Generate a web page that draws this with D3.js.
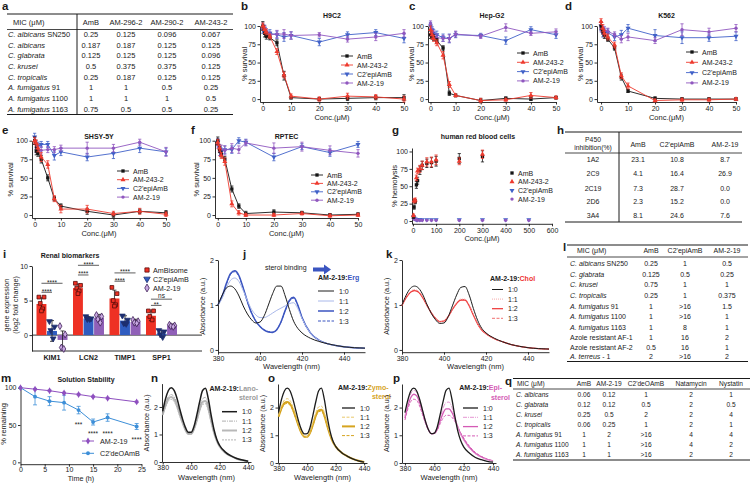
<!DOCTYPE html>
<html><head><meta charset="utf-8">
<script src="https://cdn.jsdelivr.net/npm/d3@7"></script>
<style>body{margin:0;background:#fff}svg{font-family:"Liberation Sans",Arial,Helvetica,sans-serif}</style>
</head><body>
<svg id="fig" width="750" height="483"></svg>
<script>
// ================= DATA =================
const conc = [0, 0.625, 1.25, 2.5, 5, 7.5, 10, 20, 30, 40, 50];
const survNames = ['AmB', 'AM-243-2', "C2'epiAmB", 'AM-2-19'];
const survTicksY = [0, 25, 50, 75, 100];
const survTicksX = [0, 10, 20, 30, 40, 50];

const h9c2_AmB = [100, 90, 86, 84, 77, 32, 2, 0, 1, 2, 2];
const h9c2_AmB_sd = [6, 5, 4, 3, 4, 6, 2, 2, 3, 3, 4];
const h9c2_243 = [100, 95, 92, 86, 65, 33, 4, 0, 4, 3, 0];
const h9c2_243_sd = [4, 5, 4, 3, 4, 4, 3, 3, 4, 3, 4];
const h9c2_epi = [95, 97, 92, 90, 88, 85, 87, 78, 88, 91, 83];
const h9c2_epi_sd = [5, 4, 4, 5, 5, 6, 5, 5, 4, 4, 6];
const h9c2_219 = [100, 97, 90, 88, 89, 89, 87, 88, 82, 85, 90];
const h9c2_219_sd = [4, 4, 4, 4, 5, 6, 5, 3, 4, 5, 5];

const hep_AmB = [88, 86, 84, 80, 70, 8, 5, -2, 1, 0, 2];
const hep_AmB_sd = [5, 4, 4, 3, 3, 3, 2, 3, 2, 2, 2];
const hep_243 = [95, 88, 83, 77, 60, 20, 5, -2, -1, 5, 2];
const hep_243_sd = [5, 5, 4, 4, 5, 4, 2, 3, 2, 4, 2];
const hep_epi = [100, 95, 90, 88, 84, 83, 88, 87, 80, 95, 88];
const hep_epi_sd = [5, 4, 5, 5, 5, 6, 4, 3, 5, 4, 5];
const hep_219 = [103, 93, 88, 84, 83, 83, 89, 86, 98, 90, 92];
const hep_219_sd = [4, 4, 5, 5, 4, 5, 4, 3, 5, 3, 4];

const k562_AmB = [100, 93, 87, 82, 70, 30, 11, 1, 0, 0, 0];
const k562_AmB_sd = [5, 4, 4, 3, 3, 4, 2, 2, 2, 2, 2];
const k562_243 = [106, 97, 90, 85, 74, 32, 18, -2, -1, -1, 0];
const k562_243_sd = [4, 5, 4, 4, 4, 4, 4, 2, 2, 2, 2];
const k562_epi = [100, 90, 92, 91, 85, 88, 97, 87, 84, 84, 86];
const k562_epi_sd = [6, 5, 5, 5, 5, 6, 5, 8, 8, 5, 6];
const k562_219 = [97, 95, 94, 93, 88, 82, 85, 80, 95, 92, 97];
const k562_219_sd = [5, 5, 5, 4, 4, 5, 5, 4, 8, 5, 5];

const shsy_AmB = [100, 86, 83, 75, 50, 22, 12, 5, 0, 5, 3];
const shsy_AmB_sd = [5, 5, 4, 5, 4, 3, 3, 4, 3, 3, 3];
const shsy_243 = [100, 97, 90, 78, 68, 22, 8, 8, 2, 5, 1];
const shsy_243_sd = [4, 4, 5, 6, 5, 4, 5, 5, 3, 4, 3];
const shsy_epi = [105, 95, 93, 95, 95, 80, 85, 78, 83, 90, 85];
const shsy_epi_sd = [5, 5, 5, 4, 4, 6, 5, 5, 7, 6, 5];
const shsy_219 = [100, 88, 88, 87, 88, 88, 90, 90, 90, 98, 85];
const shsy_219_sd = [5, 4, 4, 5, 4, 4, 4, 8, 5, 4, 6];

const rptec_AmB = [100, 88, 82, 75, 35, 12, 2, 4, 3, 0, 1];
const rptec_AmB_sd = [5, 4, 4, 4, 4, 3, 3, 3, 2, 2, 2];
const rptec_243 = [98, 90, 80, 72, 15, 3, 0, 0, 2, -1, 0];
const rptec_243_sd = [4, 4, 4, 5, 4, 3, 2, 2, 2, 2, 2];
const rptec_epi = [98, 90, 85, 88, 88, 100, 98, 78, 92, 84, 95];
const rptec_epi_sd = [5, 5, 5, 5, 5, 4, 4, 5, 4, 5, 4];
const rptec_219 = [95, 85, 88, 87, 90, 88, 97, 90, 92, 87, 83];
const rptec_219_sd = [5, 5, 6, 6, 6, 5, 4, 7, 6, 6, 5];

// g: hemolysis
const hemoTicksX = [0, 100, 200, 300, 400, 500, 600];
const hemoConcHigh = [2.5, 5, 10, 15, 20, 30, 40, 60, 80, 100, 200, 300];
const hemo_AmB = [6, 20, 28, 52, 58, 73, 80, 83, 84, 86, 90, 93];
const hemo_AmB_sd = [2, 3, 3, 5, 5, 6, 6, 6, 7, 7, 7, 8];
const hemo_243 = [8, 29, 30, 62, 72, 75, 80, 85, 85, 88, 86, 96];
const hemo_243_sd = [2, 3, 3, 4, 4, 5, 6, 6, 7, 7, 5, 6];
const hemoConcLow = [2.5, 5, 10, 15, 20, 30, 40, 60, 80, 100, 200, 300, 400, 500];
const hemo_epi = [6, 4, 3, 2, 2, 2, 2, 2, 2, 2, 2, 2, 2, 2];
const hemo_219 = [4, 3, 2, 2, 1, 1, 1, 1, 1, 1, 1, 1, 1, 1];

// tables
const tabA_head = ['MIC (μM)', 'AmB', 'AM-296-2', 'AM-290-2', 'AM-243-2'];
const tabA_species = ['C. albicans SN250', 'C. albicans', 'C. glabrata', 'C. krusei', 'C. tropicalis', 'A. fumigatus 91', 'A. fumigatus 1100', 'A. fumigatus 1163'];
const tabA_rows = [
  ['0.25', '0.125', '0.096', '0.067'], ['0.187', '0.187', '0.125', '0.125'], ['0.125', '0.125', '0.125', '0.096'],
  ['0.5', '0.375', '0.375', '0.125'], ['0.25', '0.187', '0.125', '0.125'], ['1', '1', '0.5', '0.25'],
  ['1', '1', '1', '0.5'], ['0.75', '0.5', '0.5', '0.25']];

const tabH_head = ['AmB', "C2'epiAmB", 'AM-2-19'];
const tabH_enzymes = ['1A2', '2C9', '2C19', '2D6', '3A4'];
const tabH_rows = [['23.1', '10.8', '8.7'], ['4.1', '16.4', '26.9'], ['7.3', '28.7', '0.0'], ['2.3', '15.2', '0.0'], ['8.1', '24.6', '7.6']];

const tabL_head = ['MIC (μM)', 'AmB', "C2'epiAmB", 'AM-2-19'];
const tabL_species = ['C. albicans SN250', 'C. glabrata', 'C. krusei', 'C. tropicalis', 'A. fumigatus 91', 'A. fumigatus 1100', 'A. fumigatus 1163', 'Azole resistant AF-1', 'Azole resistant AF-2', 'A. terreus - 1'];
const tabL_rows = [['0.25', '1', '0.5'], ['0.125', '0.5', '0.25'], ['0.75', '1', '1'], ['0.25', '1', '0.375'], ['1', '>16', '1.5'],
  ['1', '>16', '1'], ['1', '8', '1'], ['1', '16', '2'], ['0.5', '16', '1'], ['2', '>16', '2']];

const tabQ_head = ['MIC (μM)', 'AmB', 'AM-2-19', "C2'deOAmB", 'Natamycin', 'Nystatin'];
const tabQ_species = ['C. albicans', 'C. glabrata', 'C. krusei', 'C. tropicalis', 'A. fumigatus 91', 'A. fumigatus 1100', 'A. fumigatus 1163'];
const tabQ_rows = [['0.06', '0.12', '1', '2', '1'], ['0.12', '0.12', '0.5', '2', '0.5'], ['0.25', '0.5', '2', '2', '4'],
  ['0.06', '0.25', '1', '2', '1'], ['1', '2', '>16', '4', '4'], ['1', '1', '>16', '4', '2'], ['1', '1', '>16', '2', '2']];

// i: renal biomarkers
const renalCats = ['KIM1', 'LCN2', 'TIMP1', 'SPP1'];
const renalGroups = ['AmBisome', "C2'epiAmB", 'AM-2-19'];
const renal_AmBisome = [4.5, 6.8, 5.3, 2.8];
const renal_AmBisome_sd = [0.9, 0.6, 1.2, 0.7];
const renal_epi = [0.6, 2.4, 2.1, 0.2];
const renal_epi_sd = [1.5, 0.3, 0.7, 0.5];
const renal_219 = [-0.7, 2.5, 1.9, 1.4];
const renal_219_sd = [1.3, 0.5, 0.4, 0.2];
const renalPts_AmBisome = [[5.5, 5.5, 4.6, 3.8, 3.5], [7.5, 7.2, 6.8, 6.4, 6.0], [6.9, 6.0, 5.0, 4.4, 4.2], [3.5, 3.5, 2.7, 2.2]];
const renalPts_epi = [[2.0, 1.2, 0.7, -0.5], [2.7, 2.4, 2.3, 2.3], [2.8, 2.2, 1.7, 1.6], [0.7, 0.5, 0.1, -0.3]];
const renalPts_219 = [[1.3, 0.1, -1.8, -2.0], [2.9, 2.7, 2.3, 1.8], [2.2, 2.0, 1.8, 1.7], [1.5, 1.4, 1.3, 1.2]];
const renalSig = [
  ['KIM1', 'AmBisome', 'AM-2-19', 7.5, '****'], ['KIM1', 'AmBisome', "C2'epiAmB", 6.2, '****'],
  ['LCN2', 'AmBisome', 'AM-2-19', 10.1, '****'], ['LCN2', 'AmBisome', "C2'epiAmB", 8.7, '****'],
  ['TIMP1', 'AmBisome', 'AM-2-19', 9.0, '****'], ['TIMP1', 'AmBisome', "C2'epiAmB", 7.8, '****'],
  ['SPP1', 'AmBisome', 'AM-2-19', 5.2, 'ns'], ['SPP1', 'AmBisome', "C2'epiAmB", 4.3, '**']];

// spectra
const WL = [380, 382, 384, 386, 388, 390, 392, 394, 396, 398, 400, 402, 404, 406, 408, 410, 412, 414, 416, 418, 420, 424, 428, 432, 436, 440, 445, 450];
const ratios = ['1:0', '1:1', '1:2', '1:3'];
const erg10 = [1.0, 1.22, 1.38, 1.42, 1.36, 1.2, 0.98, 0.8, 0.67, 0.6, 0.62, 0.76, 1.0, 1.25, 1.42, 1.42, 1.2, 0.9, 0.64, 0.48, 0.38, 0.26, 0.19, 0.14, 0.1, 0.07, 0.05, 0.04];
const erg11 = [1.0, 1.15, 1.38, 1.55, 1.6, 1.52, 1.32, 1.1, 0.9, 0.78, 0.72, 0.72, 0.76, 0.82, 0.88, 0.93, 0.98, 1.03, 1.05, 0.92, 0.7, 0.38, 0.22, 0.14, 0.1, 0.07, 0.05, 0.04];
const erg12 = [1.0, 1.2, 1.48, 1.7, 1.76, 1.65, 1.38, 1.08, 0.82, 0.64, 0.52, 0.44, 0.4, 0.39, 0.45, 0.62, 0.88, 1.1, 1.17, 1.0, 0.72, 0.38, 0.22, 0.14, 0.1, 0.07, 0.05, 0.04];
const erg13 = [1.0, 1.19, 1.46, 1.68, 1.74, 1.63, 1.37, 1.07, 0.82, 0.64, 0.52, 0.45, 0.41, 0.4, 0.46, 0.62, 0.87, 1.08, 1.15, 0.99, 0.72, 0.38, 0.22, 0.14, 0.1, 0.07, 0.05, 0.04];
const chol10 = [1.0, 1.22, 1.37, 1.42, 1.37, 1.22, 1.0, 0.81, 0.67, 0.59, 0.6, 0.74, 0.98, 1.22, 1.39, 1.41, 1.22, 0.92, 0.66, 0.48, 0.38, 0.26, 0.18, 0.12, 0.08, 0.05, 0.03, 0.02];
const chol11 = [1.0, 1.18, 1.3, 1.34, 1.3, 1.17, 0.99, 0.83, 0.7, 0.63, 0.64, 0.75, 0.91, 1.05, 1.13, 1.13, 0.99, 0.78, 0.58, 0.44, 0.36, 0.25, 0.18, 0.12, 0.08, 0.05, 0.03, 0.02];
const chol12 = [0.99, 1.16, 1.28, 1.32, 1.28, 1.15, 0.98, 0.82, 0.7, 0.63, 0.64, 0.74, 0.9, 1.03, 1.11, 1.11, 0.98, 0.77, 0.58, 0.44, 0.36, 0.25, 0.18, 0.12, 0.08, 0.05, 0.03, 0.02];
const chol13 = [0.99, 1.17, 1.29, 1.33, 1.29, 1.16, 0.99, 0.83, 0.7, 0.63, 0.64, 0.74, 0.9, 1.04, 1.12, 1.12, 0.99, 0.78, 0.58, 0.44, 0.36, 0.25, 0.18, 0.12, 0.08, 0.05, 0.03, 0.02];
const lano10 = [1.85, 2.3, 2.6, 2.7, 2.6, 2.32, 1.92, 1.55, 1.25, 1.08, 1.08, 1.3, 1.72, 2.2, 2.6, 2.68, 2.3, 1.7, 1.18, 0.82, 0.6, 0.36, 0.22, 0.13, 0.07, 0.03, 0.01, 0];
const lano11 = [1.75, 2.12, 2.38, 2.45, 2.37, 2.13, 1.78, 1.45, 1.18, 1.03, 1.03, 1.22, 1.58, 2.0, 2.3, 2.35, 2.05, 1.55, 1.1, 0.78, 0.57, 0.34, 0.21, 0.12, 0.06, 0.03, 0.01, 0];
const lano12 = [1.72, 2.06, 2.3, 2.36, 2.28, 2.05, 1.72, 1.42, 1.16, 1.02, 1.02, 1.2, 1.53, 1.92, 2.18, 2.22, 1.96, 1.5, 1.07, 0.77, 0.56, 0.34, 0.21, 0.12, 0.06, 0.03, 0.01, 0];
const lano13 = [1.7, 2.0, 2.22, 2.28, 2.2, 1.98, 1.67, 1.39, 1.14, 1.01, 1.01, 1.18, 1.49, 1.85, 2.09, 2.12, 1.88, 1.45, 1.05, 0.76, 0.56, 0.34, 0.21, 0.12, 0.06, 0.03, 0.01, 0];
const zymo10 = [1.85, 2.3, 2.6, 2.7, 2.6, 2.3, 1.9, 1.5, 1.2, 1.05, 1.06, 1.28, 1.72, 2.2, 2.6, 2.7, 2.3, 1.68, 1.16, 0.8, 0.6, 0.38, 0.25, 0.15, 0.08, 0.03, 0.01, 0];
const zymo11 = [1.72, 2.05, 2.27, 2.32, 2.25, 2.02, 1.7, 1.38, 1.1, 0.96, 0.96, 1.12, 1.45, 1.8, 2.02, 2.05, 1.82, 1.42, 1.05, 0.78, 0.6, 0.38, 0.25, 0.15, 0.08, 0.04, 0.01, 0];
const zymo12 = [1.68, 1.98, 2.16, 2.2, 2.13, 1.93, 1.64, 1.34, 1.08, 0.95, 0.95, 1.09, 1.38, 1.7, 1.9, 1.92, 1.72, 1.36, 1.02, 0.76, 0.59, 0.38, 0.25, 0.15, 0.08, 0.04, 0.01, 0];
const zymo13 = [1.66, 1.95, 2.11, 2.15, 2.08, 1.89, 1.61, 1.32, 1.07, 0.94, 0.94, 1.07, 1.35, 1.66, 1.85, 1.87, 1.68, 1.34, 1.01, 0.76, 0.59, 0.38, 0.25, 0.15, 0.08, 0.04, 0.01, 0];
const epi10 = [1.82, 2.28, 2.6, 2.7, 2.6, 2.3, 1.9, 1.5, 1.2, 1.06, 1.08, 1.3, 1.75, 2.22, 2.62, 2.7, 2.3, 1.68, 1.15, 0.8, 0.58, 0.35, 0.2, 0.12, 0.06, 0.03, 0.01, 0];
const epi11 = [1.7, 2.18, 2.5, 2.62, 2.55, 2.28, 1.9, 1.52, 1.22, 1.07, 1.08, 1.26, 1.62, 1.98, 2.18, 2.2, 2.0, 1.65, 1.3, 1.02, 0.82, 0.52, 0.32, 0.2, 0.12, 0.07, 0.03, 0.01];
const epi12 = [1.62, 2.05, 2.36, 2.48, 2.42, 2.18, 1.83, 1.48, 1.2, 1.06, 1.07, 1.22, 1.52, 1.8, 1.95, 1.95, 1.82, 1.58, 1.3, 1.05, 0.86, 0.56, 0.35, 0.22, 0.13, 0.08, 0.03, 0.01];
const epi13 = [1.55, 1.95, 2.22, 2.3, 2.26, 2.05, 1.74, 1.43, 1.18, 1.05, 1.06, 1.18, 1.42, 1.62, 1.72, 1.72, 1.65, 1.5, 1.3, 1.08, 0.9, 0.6, 0.38, 0.24, 0.14, 0.08, 0.03, 0.01];

// m: solution stability
const stabTime = [0, 3, 6, 9, 12, 15, 18, 24];
const stab_219 = [100, 98, 96, 93, 91, 88, 86, 81];
const stab_219_sd = [0, 1, 1, 1, 1, 1, 1, 1];
const stab_deo = [100, 88, 82, 80, 70, 54, 60, 48];
const stab_deo_sd = [0, 11, 6, 10, 5, 4, 5, 4];
const stabStars = [[12, 50, '***'], [15, 38, '****'], [18, 38, '****'], [24, 30, '****']];

// ================= DRAWING =================
const svg = d3.select('#fig');
const INK = '#1a1a1a';
const C = {black: '#151515', red: '#ee3a2e', blue: '#4061c8', purple: '#9057bf'};

function T(x, y, s, o = {}) {
  const t = svg.append('text').attr('x', x).attr('y', y)
    .attr('font-size', o.size || 7).attr('fill', o.fill || INK)
    .attr('text-anchor', o.anchor || 'start');
  if (o.bold) t.attr('font-weight', 'bold');
  if (o.italic) t.attr('font-style', 'italic');
  if (o.rot) t.attr('transform', `rotate(-90 ${x} ${y})`);
  if (s !== null) t.text(s);
  return t;
}
function letter(x, y, ch) { T(x, y, ch, {size: 11.5, bold: true}); }
function styleAx(g, fs) {
  g.attr('font-family', null).attr('font-size', null);
  g.select('.domain').attr('stroke', INK).attr('stroke-width', 0.9);
  g.selectAll('.tick line').attr('stroke', INK).attr('stroke-width', 0.9);
  g.selectAll('.tick text').attr('font-size', fs || 7).attr('fill', INK);
}
function axL(y, xpos, ticks, fs) {
  const g = svg.append('g').attr('transform', `translate(${xpos},0)`)
    .call(d3.axisLeft(y).tickValues(ticks).tickSize(2.5).tickSizeOuter(0).tickPadding(1.5).tickFormat(d3.format('~g')));
  styleAx(g, fs); return g;
}
function axB(x, ypos, ticks, fs, pad) {
  const g = svg.append('g').attr('transform', `translate(0,${ypos})`)
    .call(d3.axisBottom(x).tickValues(ticks).tickSize(2.5).tickSizeOuter(0).tickPadding(pad == null ? 1.5 : pad).tickFormat(d3.format('~g')));
  styleAx(g, fs); return g;
}
function sym(g, st, x, y) {
  g.append('path').attr('d', d3.symbol().type(st.type).size(st.size)())
    .attr('transform', `translate(${x},${y}) rotate(${st.rot})`).attr('fill', st.color);
}
function errbar(g, x, y1, y2, color, cap) {
  const c = cap || 1.6;
  g.append('path').attr('d', `M${x},${y1}V${y2}M${x - c},${y1}H${x + c}M${x - c},${y2}H${x + c}`)
    .attr('stroke', color).attr('stroke-width', 0.8).attr('fill', 'none');
}
const survStyle = [
  {color: C.black, type: d3.symbolSquare, size: 11, rot: 0},
  {color: C.red, type: d3.symbolTriangle, size: 11, rot: 0},
  {color: C.blue, type: d3.symbolTriangle, size: 11, rot: 180},
  {color: C.purple, type: d3.symbolCircle, size: 9, rot: 0}];

function survivalPanel(p) {
  const x = d3.scaleLinear().domain(p.xd).range([p.l, p.r]);
  const y = d3.scaleLinear().domain([-4, 100]).range([p.b, p.t]);
  axL(y, p.l, survTicksY); axB(x, p.b, survTicksX);
  letter(p.letter[0], p.letter[1], p.name);
  T((p.l + p.r) / 2, p.titleY, p.title, {bold: true, anchor: 'middle', size: 7});
  T(p.ylabX, (p.t + p.b) / 2, '% survival', {rot: true, anchor: 'middle', size: 7.5});
  T((p.l + p.r) / 2, p.b + 18, 'Conc.(μM)', {anchor: 'middle', size: 7.5});
  [2, 3, 0, 1].forEach(i => {
    const s = p.series[i], st = survStyle[i];
    const pts = conc.map((c, k) => ({c, v: s[0][k], e: s[1][k]}));
    const g = svg.append('g');
    g.append('path').attr('d', d3.line().x(d => x(d.c)).y(d => y(d.v))(pts))
      .attr('fill', 'none').attr('stroke', st.color).attr('stroke-width', 0.9);
    pts.forEach(d => { errbar(g, x(d.c), y(d.v - d.e), y(d.v + d.e), st.color); sym(g, st, x(d.c), y(d.v)); });
  });
  survNames.forEach((n, i) => {
    const ly = p.leg.y + i * p.leg.dy, st = survStyle[i];
    const g = svg.append('g');
    g.append('line').attr('x1', p.leg.x - 6).attr('x2', p.leg.x + 6).attr('y1', ly).attr('y2', ly)
      .attr('stroke', st.color).attr('stroke-width', 0.9);
    sym(g, st, p.leg.x, ly);
    T(p.leg.x + 10, ly + 2.5, n, {size: 7});
  });
}

survivalPanel({name: 'b', letter: [241, 10], title: 'H9C2', titleY: 18, l: 260, r: 404, xd: [-1, 50], t: 26, b: 102, ylabX: 247,
  leg: {x: 347, y: 56, dy: 9}, series: [[h9c2_AmB, h9c2_AmB_sd], [h9c2_243, h9c2_243_sd], [h9c2_epi, h9c2_epi_sd], [h9c2_219, h9c2_219_sd]]});
survivalPanel({name: 'c', letter: [409, 10], title: 'Hep-G2', titleY: 18, l: 428, r: 556, xd: [-1, 50], t: 26, b: 102, ylabX: 414,
  leg: {x: 523, y: 53, dy: 9.3}, series: [[hep_AmB, hep_AmB_sd], [hep_243, hep_243_sd], [hep_epi, hep_epi_sd], [hep_219, hep_219_sd]]});
survivalPanel({name: 'd', letter: [565, 10], title: 'K562', titleY: 18, l: 597, r: 736, xd: [-1.5, 50], t: 26, b: 102, ylabX: 583,
  leg: {x: 692, y: 52, dy: 10.3}, series: [[k562_AmB, k562_AmB_sd], [k562_243, k562_243_sd], [k562_epi, k562_epi_sd], [k562_219, k562_219_sd]]});
survivalPanel({name: 'e', letter: [2, 134], title: 'SHSY-5Y', titleY: 139, l: 32, r: 166, xd: [-1, 50], t: 140.7, b: 218, ylabX: 13,
  leg: {x: 123, y: 171, dy: 8.7}, series: [[shsy_AmB, shsy_AmB_sd], [shsy_243, shsy_243_sd], [shsy_epi, shsy_epi_sd], [shsy_219, shsy_219_sd]]});
survivalPanel({name: 'f', letter: [191, 134], title: 'RPTEC', titleY: 139, l: 215, r: 358, xd: [-1, 50], t: 140.7, b: 218, ylabX: 199,
  leg: {x: 317, y: 175, dy: 8.4}, series: [[rptec_AmB, rptec_AmB_sd], [rptec_243, rptec_243_sd], [rptec_epi, rptec_epi_sd], [rptec_219, rptec_219_sd]]});

// ---- g: hemolysis ----
(function () {
  const x = d3.scaleLinear().domain([-4, 600]).range([412, 552]);
  const y = d3.scaleLinear().domain([-4, 105]).range([223.8, 148]);
  axL(y, 412, survTicksY); axB(x, 223.8, hemoTicksX);
  letter(392, 134, 'g');
  T(478, 139, 'human red blood cells', {bold: true, anchor: 'middle'});
  T(397, 186, '% hemolysis', {rot: true, anchor: 'middle', size: 7.5});
  T(482, 241, 'Conc.(μM)', {anchor: 'middle', size: 7.5});
  const sets = [[hemoConcLow, hemo_epi, null, 2], [hemoConcLow, hemo_219, null, 3], [hemoConcHigh, hemo_AmB, hemo_AmB_sd, 0], [hemoConcHigh, hemo_243, hemo_243_sd, 1]];
  sets.forEach(([xs, vs, sd, si]) => {
    const g = svg.append('g'), st = survStyle[si];
    xs.forEach((c, k) => {
      if (sd) errbar(g, x(c), y(vs[k] - sd[k]), y(vs[k] + sd[k]), st.color);
      sym(g, st, x(c), y(vs[k]));
    });
  });
  survNames.forEach((n, i) => {
    const ly = 173 + i * 8.7;
    sym(svg.append('g'), survStyle[i], 512, ly);
    T(518, ly + 2.5, n);
  });
})();

// ---- tables ----
function speciesCell(x, y, name, size, anchor) {
  const t = T(x, y, null, {size, anchor});
  const m = name.match(/^([A-Z]\. [a-z]+)(.*)$/);
  if (m) { t.append('tspan').attr('font-style', 'italic').text(m[1]); if (m[2]) t.append('tspan').text(m[2]); }
  else t.text(name);
}
function hline(x1, x2, y, w) { svg.append('line').attr('x1', x1).attr('x2', x2).attr('y1', y).attr('y2', y).attr('stroke', INK).attr('stroke-width', w); }
function vline(x, y1, y2, w) { svg.append('line').attr('x1', x).attr('x2', x).attr('y1', y1).attr('y2', y2).attr('stroke', INK).attr('stroke-width', w); }

// a
letter(2, 10, 'a');
hline(7, 233, 14, 1); hline(7, 233, 29.5, 0.8); hline(7, 233, 114.5, 1); vline(77, 14, 114.5, 1);
(function () {
  const colX = [91, 126, 167, 211], rowY = [36.5, 47.5, 57.5, 68.5, 79.5, 89.5, 100.5, 111.5];
  T(13, 24.5, tabA_head[0], {size: 7.5});
  tabA_head.slice(1).forEach((h, i) => T(colX[i], 24.5, h, {size: 7.5, anchor: 'middle'}));
  tabA_species.forEach((s, r) => {
    speciesCell(8, rowY[r], s, 7.5);
    tabA_rows[r].forEach((v, i) => T(colX[i], rowY[r], v, {size: 7.5, anchor: 'middle'}));
  });
})();

// h
letter(557, 134, 'h');
hline(565, 742, 132, 1); hline(565, 742, 153, 0.8); hline(565, 742, 222, 1); vline(619, 132, 222, 1);
(function () {
  const colX = [638, 677, 725], rowY = [161.5, 175.5, 190.5, 204, 217.5];
  T(593, 142, 'P450', {size: 6.8, anchor: 'middle'});
  T(593, 150, 'inhibition(%)', {size: 6.8, anchor: 'middle'});
  tabH_head.forEach((h, i) => T(colX[i], 146.5, h, {size: 7, anchor: 'middle'}));
  tabH_enzymes.forEach((e, r) => {
    T(593, rowY[r], e, {size: 7, anchor: 'middle'});
    tabH_rows[r].forEach((v, i) => T(colX[i], rowY[r], v, {size: 7, anchor: 'middle'}));
  });
})();

// l
letter(563, 251, 'l');
hline(567, 748, 245, 1); hline(567, 748, 257, 0.8); hline(567, 748, 361.5, 1);
(function () {
  const colX = [651, 685, 727], rowY = [266, 276.5, 287, 298, 308.5, 319, 329.5, 340, 349.5, 358.5];
  T(577, 253, tabL_head[0], {size: 7});
  tabL_head.slice(1).forEach((h, i) => T(colX[i], 253, h, {size: 7, anchor: 'middle'}));
  tabL_species.forEach((s, r) => {
    speciesCell(570, rowY[r], s, 7);
    tabL_rows[r].forEach((v, i) => T(colX[i], rowY[r], v, {size: 7, anchor: 'middle'}));
  });
})();

// q
letter(505, 385, 'q');
hline(513, 750, 378.5, 1); hline(513, 750, 389, 0.8); hline(513, 750, 460, 1);
(function () {
  const colX = [584, 609, 646, 691, 731], rowY = [396.5, 406.6, 416.7, 426.8, 436.9, 447, 457];
  T(517, 386, tabQ_head[0], {size: 6.6});
  tabQ_head.slice(1).forEach((h, i) => T(colX[i], 386, h, {size: 6.6, anchor: 'middle'}));
  tabQ_species.forEach((s, r) => {
    speciesCell(516, rowY[r], s, 6.6);
    tabQ_rows[r].forEach((v, i) => T(colX[i], rowY[r], v, {size: 6.6, anchor: 'middle'}));
  });
})();

// ---- i: renal biomarkers ----
(function () {
  const y = d3.scaleLinear().domain([-2.3, 10]).range([351, 266]);
  const xc = d3.scalePoint().domain(renalCats).range([52, 161.5]);
  const xs = d3.scaleBand().domain(renalGroups).range([-15.5, 15.5]).paddingInner(0.06);
  const bw = xs.bandwidth();
  letter(3, 258, 'i');
  T(70, 257.5, 'Renal biomarkers', {bold: true, anchor: 'middle'});
  T(9, 305, 'gene expression', {rot: true, anchor: 'middle', size: 7.2});
  T(17.5, 305, '(log2 fold change)', {rot: true, anchor: 'middle', size: 7.2});
  axL(y, 32, [0, 5, 10]);
  hline(32, 202, y(-2.3), 0.9);
  hline(32, 202, y(0), 0.9);
  renalCats.forEach(c => T(xc(c), 359.5, c, {bold: true, anchor: 'middle', size: 7.2}));
  const grp = [
    {name: 'AmBisome', m: renal_AmBisome, sd: renal_AmBisome_sd, pts: renalPts_AmBisome, bar: '#ee3124', mk: d3.symbolSquare, mf: '#ee3124', ms: '#5a0d0a', rot: 0},
    {name: "C2'epiAmB", m: renal_epi, sd: renal_epi_sd, pts: renalPts_epi, bar: '#2f5cc0', mk: d3.symbolTriangle, mf: '#1d2f70', ms: '#1d2f70', rot: 180},
    {name: 'AM-2-19', m: renal_219, sd: renal_219_sd, pts: renalPts_219, bar: '#9060b8', mk: d3.symbolDiamond, mf: '#c9a9e3', ms: '#3d1f55', rot: 0}];
  const jit = [-2.6, 2.6, -1.2, 1.2, 0];
  grp.forEach(G => {
    renalCats.forEach((c, k) => {
      const x0 = xc(c) + xs(G.name), v = G.m[k];
      svg.append('rect').attr('x', x0).attr('width', bw).attr('y', y(Math.max(0, v)))
        .attr('height', Math.abs(y(v) - y(0))).attr('fill', G.bar);
      const g = svg.append('g');
      errbar(g, x0 + bw / 2, y(v - G.sd[k]), y(v + G.sd[k]), INK, 2);
      G.pts[k].forEach((pv, j) => {
        g.append('path').attr('d', d3.symbol().type(G.mk).size(14)())
          .attr('transform', `translate(${x0 + bw / 2 + jit[j]},${y(pv)}) rotate(${G.rot})`)
          .attr('fill', G.mf).attr('stroke', G.ms).attr('stroke-width', 0.8);
      });
    });
  });
  renalSig.forEach(([c, a, b, v, lab]) => {
    const x1 = xc(c) + xs(a) + bw / 2, x2 = xc(c) + xs(b) + bw / 2;
    hline(x1, x2, y(v), 0.7);
    T((x1 + x2) / 2, y(v) + (lab === 'ns' ? -1 : 1.4), lab, {anchor: 'middle', size: 6.5});
  });
  grp.forEach((G, i) => {
    const ly = 270 + i * 9;
    svg.append('path').attr('d', d3.symbol().type(G.mk).size(18)())
      .attr('transform', `translate(147,${ly}) rotate(${G.rot})`).attr('fill', G.name === 'AM-2-19' ? G.mf : G.bar)
      .attr('stroke', G.ms).attr('stroke-width', 0.8);
    T(153, ly + 2.5, G.name, {size: 7.2});
  });
})();

// ---- spectra ----
function specPanel(p) {
  const x = d3.scaleLinear().domain(p.xd).range([p.l, p.r]);
  const y = d3.scaleLinear().domain(p.yd).range([p.b, p.t]);
  axL(y, p.l, [0, 1, 2]); axB(x, p.b, [380, 400, 420, 440], 7, p.xpad);
  letter(p.letter[0], p.letter[1], p.name);
  T(p.l - 13, (p.t + p.b) / 2, 'Absorbance (a.u.)', {rot: true, anchor: 'middle', size: 7.2});
  T((p.l + p.r) / 2, p.b + (p.xlabDy || 17), 'Wavelength (nm)', {anchor: 'middle', size: 7.5});
  const idx = WL.map((w, i) => i).filter(i => WL[i] <= p.xd[1] + 0.5);
  p.curves.slice().reverse().forEach(c => {
    const ln = d3.line().x(i => x(WL[i])).y(i => y(c.data[i])).curve(d3.curveMonotoneX);
    svg.append('path').attr('d', ln(idx)).attr('fill', 'none').attr('stroke', c.color)
      .attr('stroke-width', c.w).attr('stroke-dasharray', c.dash || null);
  });
  const L = p.leg;
  const tt = T(L.tx, L.ty, null, {bold: true, size: 7, anchor: L.tanchor || 'start'});
  tt.append('tspan').text('AM-2-19:');
  tt.append('tspan').attr('fill', p.hue).text(L.sterol);
  if (L.line2) T(L.line2[0], L.line2[1], 'sterol', {bold: true, size: 7, anchor: 'end', fill: p.hue});
  ratios.forEach((r, i) => {
    const ly = L.y + i * L.dy, c = p.curves[i];
    svg.append('line').attr('x1', L.x0).attr('x2', L.x1).attr('y1', ly).attr('y2', ly)
      .attr('stroke', c.color).attr('stroke-width', c.w).attr('stroke-dasharray', c.dash || null);
    T(L.x1 + 5, ly + 2.5, r, {size: 7});
  });
}
const blk = '#1c1c1c';
specPanel({name: 'j', letter: [243, 258], l: 218, r: 365, xd: [380, 450], yd: [-0.05, 2], b: 352.2, t: 260, hue: '#3b55c0',
  curves: [{data: erg10, color: blk, w: 1}, {data: erg11, color: '#a9b8ea', w: 1}, {data: erg12, color: '#3b55c0', w: 1.5}, {data: erg13, color: '#3b55c0', w: 1, dash: '3,1.5'}],
  leg: {tx: 318, ty: 280, sterol: 'Erg', x0: 318, x1: 334, y: 291, dy: 10}});
svg.append('path').attr('d', 'M313,267.5 L324,267.5 L324,264.5 L331,269.5 L324,274.5 L324,271.5 L313,271.5 Z').attr('fill', '#3b55c0');
T(265, 270, 'sterol binding', {size: 7});
specPanel({name: 'k', letter: [386, 258], l: 402, r: 549, xd: [380, 450], yd: [-0.05, 2], b: 352.2, t: 260, hue: '#ee3333',
  curves: [{data: chol10, color: blk, w: 1}, {data: chol11, color: '#f5a0a0', w: 0.9, dash: '1,1'}, {data: chol12, color: '#ee3333', w: 1.2}, {data: chol13, color: '#f07070', w: 1, dash: '3,1.5'}],
  leg: {tx: 490, ty: 281, sterol: 'Chol', x0: 492, x1: 503, y: 289.5, dy: 9.6}});
specPanel({name: 'n', letter: [151, 382], l: 162, r: 251, xd: [379.5, 442], yd: [0, 2.85], b: 462, t: 383.6, hue: '#9a9a9a', xpad: 1, xlabDy: 17.5,
  curves: [{data: lano10, color: blk, w: 1.5}, {data: lano11, color: '#9a9a9a', w: 0.8, dash: '4,1,1,1'}, {data: lano12, color: '#b8b8b8', w: 2}, {data: lano13, color: '#a0a0a0', w: 0.8, dash: '2,1'}],
  leg: {tx: 258, ty: 391, tanchor: 'end', sterol: 'Lano-', line2: [258, 399.5], x0: 222, x1: 237, y: 411.7, dy: 9.4}});
specPanel({name: 'o', letter: [268, 382], l: 278, r: 367, xd: [379.5, 442], yd: [0, 2.85], b: 463, t: 384, hue: '#d6a41f', xpad: 1, xlabDy: 17,
  curves: [{data: zymo10, color: blk, w: 1.3}, {data: zymo11, color: '#e9c96b', w: 1, dash: '3,1.5'}, {data: zymo12, color: '#d6a41f', w: 2}, {data: zymo13, color: '#d6a41f', w: 1, dash: '3,1.5'}],
  leg: {tx: 338, ty: 390, sterol: 'Zymo-', line2: [391, 399], x0: 342, x1: 355, y: 408, dy: 9.2}});
specPanel({name: 'p', letter: [393, 382], l: 402, r: 496, xd: [378, 442], yd: [0, 2.85], b: 463, t: 384, hue: '#d45bb5', xpad: 1, xlabDy: 17,
  curves: [{data: epi10, color: blk, w: 1.3}, {data: epi11, color: '#e597d2', w: 1, dash: '4,1,1,1'}, {data: epi12, color: '#d45bb5', w: 1.3}, {data: epi13, color: '#d45bb5', w: 1, dash: '3,1.5'}],
  leg: {tx: 502, ty: 390, tanchor: 'end', sterol: 'Epi-', line2: [510, 399.5], x0: 463, x1: 478, y: 408, dy: 9.3}});

// ---- m: solution stability ----
(function () {
  const x = d3.scaleLinear().domain([0, 25]).range([20.5, 141.5]);
  const y = d3.scaleLinear().domain([-2.5, 100]).range([464.2, 387.7]);
  axL(y, 20.5, [0, 50, 100]); axB(x, 464.2, [0, 5, 10, 15, 20, 25], 7, 0.8);
  letter(1, 381.5, 'm');
  T(86, 382, 'Solution Stability', {bold: true, anchor: 'middle'});
  T(6, 424, '% remaining', {rot: true, anchor: 'middle', size: 7.5});
  T(81, 481, 'Time (h)', {anchor: 'middle', size: 7.2});
  const S = [
    {v: stab_deo, sd: stab_deo_sd, color: '#3d8fd8', type: d3.symbolCircle, size: 12},
    {v: stab_219, sd: stab_219_sd, color: '#8e4fbf', type: d3.symbolDiamond, size: 14}];
  S.forEach(s => {
    const g = svg.append('g');
    g.append('path').attr('d', d3.line().x((d, i) => x(stabTime[i])).y(d => y(d))(s.v))
      .attr('fill', 'none').attr('stroke', s.color).attr('stroke-width', 1);
    s.v.forEach((v, i) => {
      if (s.sd[i] > 0) errbar(g, x(stabTime[i]), y(v - s.sd[i]), y(v + s.sd[i]), s.color, 2);
      sym(g, {type: s.type, size: s.size, rot: 0, color: s.color}, x(stabTime[i]), y(v));
    });
  });
  stabStars.forEach(([t, v, lab]) => T(x(t), y(v) + 2, lab, {anchor: 'middle', size: 6.5}));
  [['AM-2-19', S[1]], ["C2'deOAmB", S[0]]].forEach(([n, s], i) => {
    const ly = 441 + i * 12.3;
    const g = svg.append('g');
    g.append('line').attr('x1', 82).attr('x2', 94).attr('y1', ly).attr('y2', ly).attr('stroke', s.color).attr('stroke-width', 1);
    sym(g, {type: s.type, size: s.size, rot: 0, color: s.color}, 88, ly);
    T(100, ly + 2.5, n, {size: 7.2});
  });
})();
</script>
</body></html>
